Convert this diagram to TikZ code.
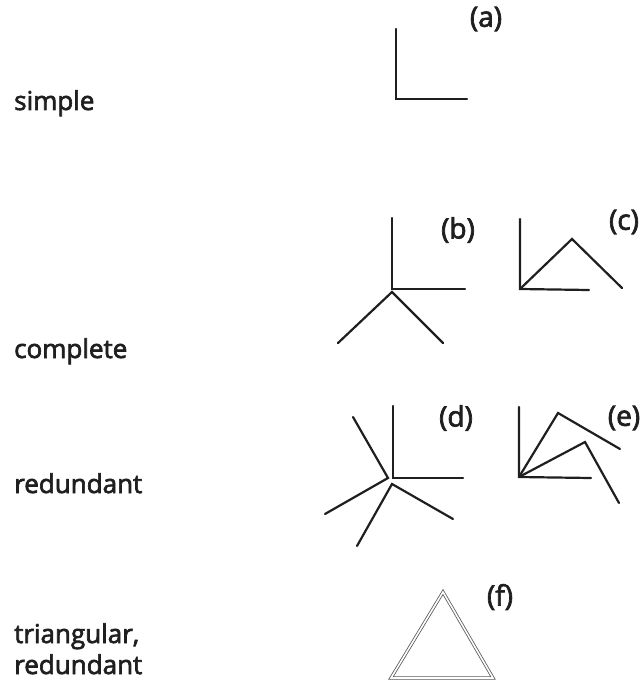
\documentclass[tikz,border=0pt]{standalone}
\usepackage{fontspec}
\setmainfont{Open Sans}
\newfontfamily\lblfont{Open Sans}[FakeBold=2.5]
\begin{document}
\begin{tikzpicture}[x=1pt,y=-1pt,
  seg/.style={draw=black!88,line width=2.2pt,line cap=round},
  dbl/.style={draw=black!65,line width=0.8pt,double=white,double distance=1.6pt,line join=miter},
  rowlabel/.style={anchor=base west,inner sep=0pt,font=\lblfont\fontsize{26}{31}\selectfont,text=black!88,align=left},
  figlabel/.style={anchor=center,inner sep=0pt,font=\lblfont\fontsize{28}{32}\selectfont,text=black!88}]
\useasboundingbox (0,0) rectangle (644,687);
% row labels
\node[rowlabel] (lsimple) at (14,110) {simple};
\node[rowlabel] (lcomplete) at (14,358) {complete};
\node[rowlabel] (lredundant) at (14,493) {redundant};
\node[rowlabel] (ltri) at (14,643) {triangular,};
\node[rowlabel] (ltri2) at (14,674) {redundant};
% figure labels
\node[figlabel] (la) at (486,19) {(a)};
\node[figlabel] (lb) at (458,230) {(b)};
\node[figlabel] (lc) at (624,222) {(c)};
\node[figlabel] (ld) at (456,418) {(d)};
\node[figlabel] (le) at (624,418) {(e)};
\node[figlabel] (lf) at (500,597) {(f)};
% (a)
\coordinate (aT) at (396,29);
\coordinate (aO) at (396,99);
\coordinate (aR) at (467,99);
\draw[seg] (aT) -- (aO) -- (aR);
% (b)
\coordinate (bT) at (392,218);
\coordinate (bO) at (392,289);
\coordinate (bR) at (465,289);
\coordinate (bJ) at (392,292);
\coordinate (bL1) at (338,343);
\coordinate (bL2) at (443,343);
\draw[seg] (bT) -- (bO) -- (bR);
\draw[seg] (bL1) -- (bJ) -- (bL2);
% (c)
\coordinate (cT) at (520,219);
\coordinate (cO) at (520,289);
\coordinate (cR) at (589,290);
\coordinate (cP) at (572,239);
\coordinate (cE) at (622,288);
\draw[seg] (cT) -- (cO) -- (cR);
\draw[seg] (cO) -- (cP) -- (cE);
% (d)
\coordinate (dT) at (393,406);
\coordinate (dO) at (393,478);
\coordinate (dR) at (463,478);
\coordinate (dU) at (353,417);
\coordinate (dJ1) at (388,478);
\coordinate (dL) at (325,514);
\coordinate (dJ2) at (392,484);
\coordinate (dB1) at (357,546);
\coordinate (dB2) at (453,519);
\draw[seg] (dT) -- (dO) -- (dR);
\draw[seg] (dU) -- (dJ1) -- (dL);
\draw[seg] (dB1) -- (dJ2) -- (dB2);
% (e)
\coordinate (eT) at (519,407);
\coordinate (eO) at (519,477);
\coordinate (eR) at (591,478);
\coordinate (eP1) at (558,413);
\coordinate (eE1) at (620,449);
\coordinate (eP2) at (585,442);
\coordinate (eE2) at (619,503);
\draw[seg] (eT) -- (eO) -- (eR);
\draw[seg] (eO) -- (eP1) -- (eE1);
\draw[seg] (eO) -- (eP2) -- (eE2);
% (f)
\coordinate (fA) at (443,592);
\coordinate (fL) at (391,678);
\coordinate (fR) at (493,678);
\draw[dbl] (fA) -- (fL) -- (fR) -- cycle;
\end{tikzpicture}
\end{document}
